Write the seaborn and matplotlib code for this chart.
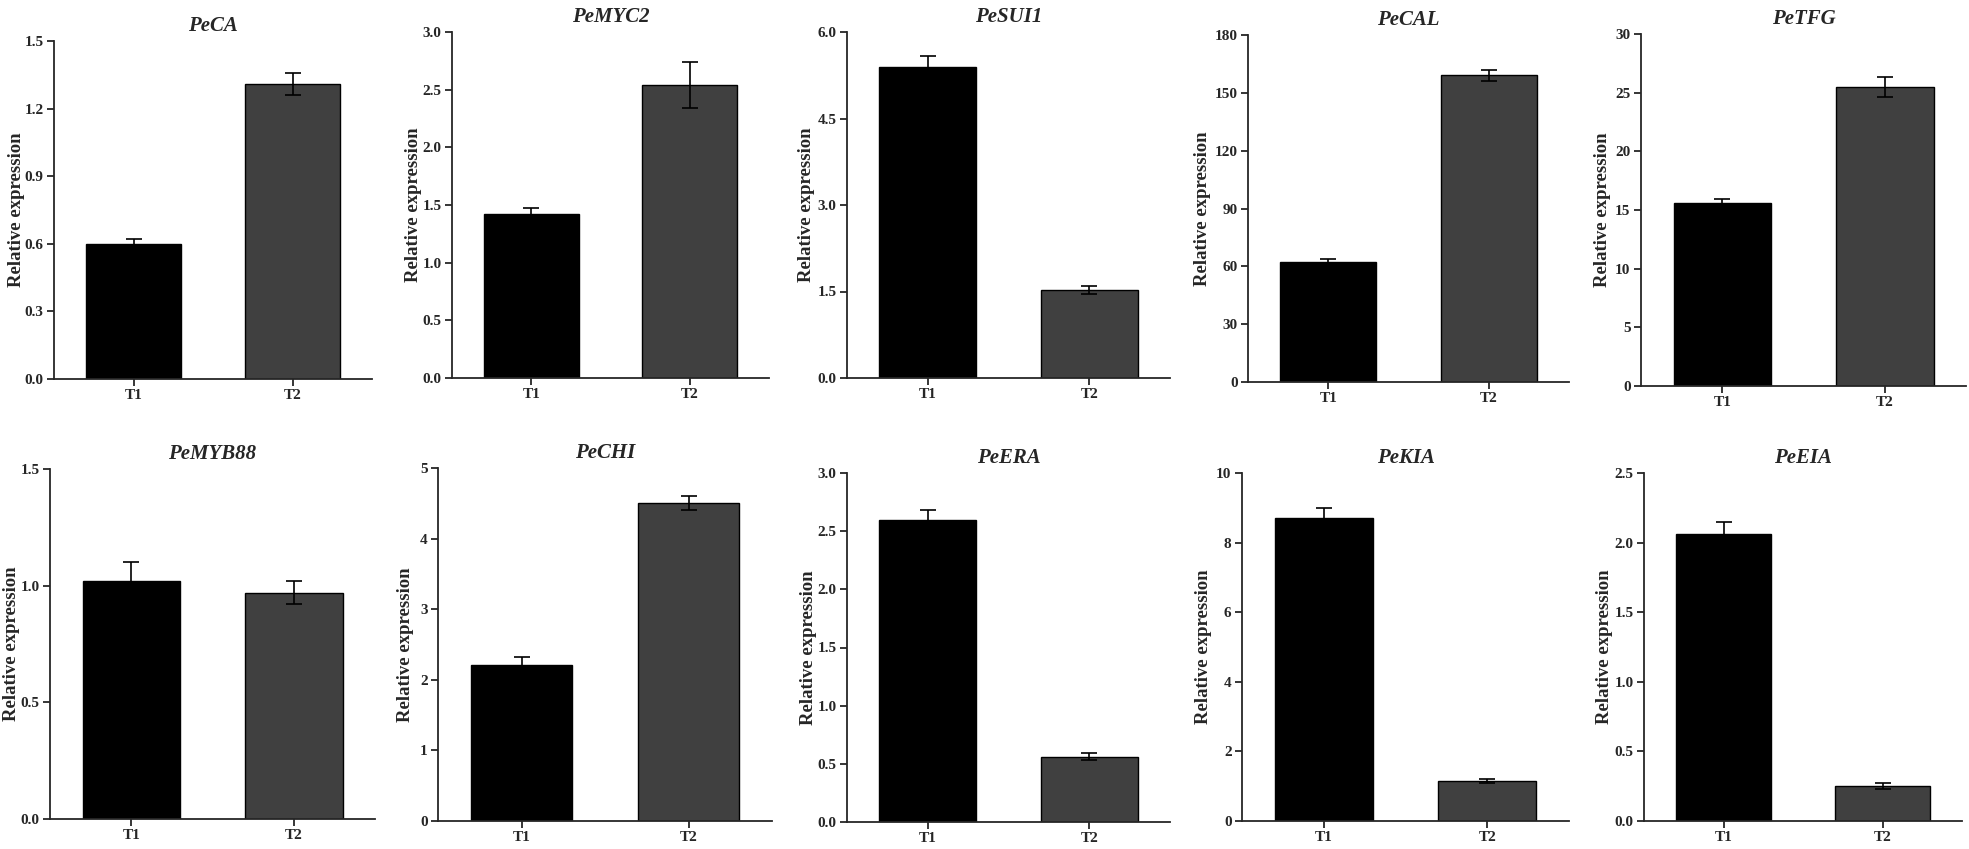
import numpy as np
import pandas as pd
import matplotlib
matplotlib.use("Agg")
import matplotlib.pyplot as plt
import seaborn as sns

sns.set_style("ticks")
plt.rcParams["font.family"] = ["Liberation Serif", "DejaVu Serif"]
plt.rcParams["font.weight"] = "bold"

# data (mean and error for T1 / T2)
genes = ["PeCA", "PeMYC2", "PeSUI1", "PeCAL", "PeTFG",
         "PeMYB88", "PeCHI", "PeERA", "PeKIA", "PeEIA"]
groups = ["T1", "T2"]
t1_mean = [0.60, 1.42, 5.40, 62.0, 15.6, 1.02, 2.21, 2.60, 8.70, 2.06]
t1_err = [0.02, 0.05, 0.18, 2.0, 0.30, 0.08, 0.12, 0.08, 0.30, 0.09]
t2_mean = [1.31, 2.54, 1.53, 159.0, 25.5, 0.97, 4.51, 0.56, 1.15, 0.25]
t2_err = [0.05, 0.20, 0.07, 3.0, 0.85, 0.05, 0.10, 0.03, 0.05, 0.02]
y_max = [1.5, 3.0, 6.0, 180, 30, 1.5, 5, 3.0, 10, 2.5]
y_step = [0.3, 0.5, 1.5, 30, 5, 0.5, 1, 0.5, 2, 0.5]

# panel boxes in pixels: x_left, y_top, x_right, y_bottom
W, H = 1969, 849
boxes = [
    (54, 41, 372, 379), (452, 32, 769, 378), (847, 32, 1170, 378),
    (1248, 35, 1569, 382), (1641, 34, 1966, 386),
    (50, 469, 375, 819), (438, 468, 772, 821), (847, 473, 1170, 822),
    (1242, 473, 1569, 821), (1644, 473, 1962, 821),
]
# distance (px) from y axis to the y label
label_gap = [29, 30, 32, 37, 30, 30, 24, 30, 30, 31]
colors = {"T1": "#000000", "T2": "#404040"}

fig = plt.figure(figsize=(W / 100, H / 100), dpi=100)

for i, gene in enumerate(genes):
    x0, y0, x1, y1 = boxes[i]
    ax = fig.add_axes([x0 / W, 1 - y1 / H, (x1 - x0) / W, (y1 - y0) / H])

    df = pd.DataFrame({"group": groups,
                       "value": [t1_mean[i], t2_mean[i]],
                       "err": [t1_err[i], t2_err[i]]})
    sns.barplot(data=df, x="group", y="value", hue="group", palette=colors,
                width=0.6, edgecolor="black", linewidth=1.0, legend=False, ax=ax)
    ax.errorbar(x=[0, 1], y=df["value"], yerr=df["err"], fmt="none",
                ecolor="black", elinewidth=1.2, capsize=6, capthick=1.2, zorder=5)

    ticks = np.arange(0, y_max[i] + y_step[i] / 2, y_step[i])
    ax.set_ylim(0, y_max[i])
    ax.set_yticks(ticks)
    if float(y_step[i]).is_integer():
        ax.set_yticklabels([f"{t:.0f}" for t in ticks])
    else:
        ax.set_yticklabels([f"{t:.1f}" for t in ticks])
    ax.set_xlim(-0.5, 1.5)

    sns.despine(ax=ax)
    for s in ["left", "bottom"]:
        ax.spines[s].set_linewidth(1.3)
    ax.tick_params(axis="both", direction="out", length=5, width=1.3,
                   labelsize=11, pad=2.5)
    for lab in ax.get_xticklabels() + ax.get_yticklabels():
        lab.set_fontweight("bold")

    ax.set_xlabel("")
    ax.set_ylabel("Relative expression", fontsize=13.5, fontweight="bold")
    ax.yaxis.set_label_coords(-label_gap[i] / (x1 - x0), 0.5)
    ax.set_title(gene, fontsize=15, fontweight="bold", fontstyle="italic", pad=7)

fig.savefig("out.png", dpi=100)
